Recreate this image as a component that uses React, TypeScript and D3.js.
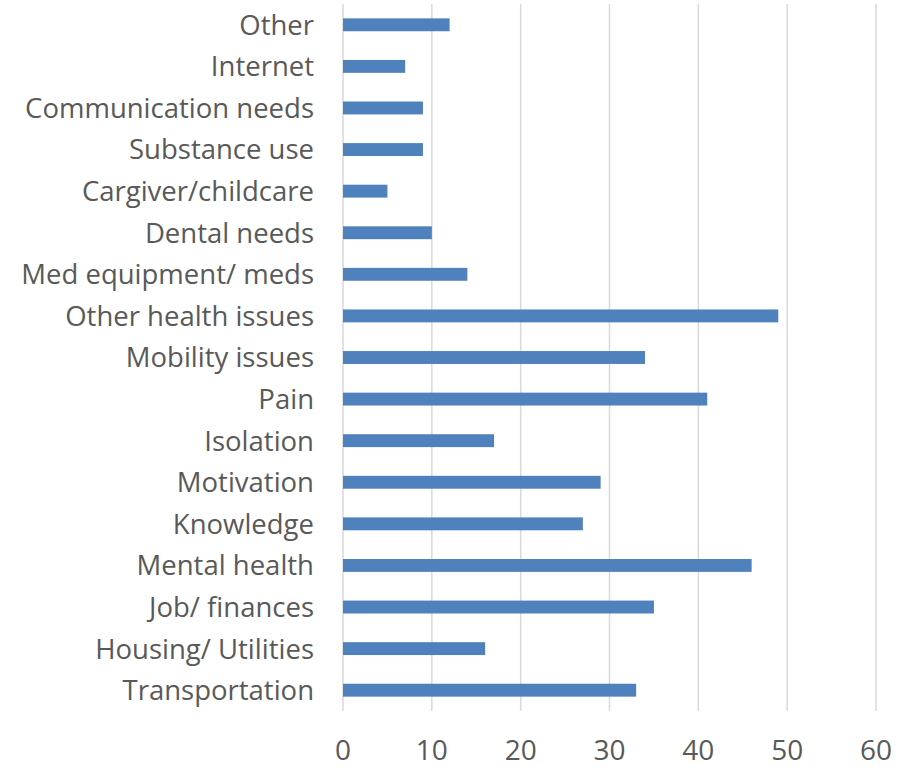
import React, {useEffect, useRef} from "react";
import * as d3 from "d3";

// categories from bottom to top as they appear in the chart
const categories = [
    "Transportation",
    "Housing/ Utilities",
    "Job/ finances",
    "Mental health",
    "Knowledge",
    "Motivation",
    "Isolation",
    "Pain",
    "Mobility issues",
    "Other health issues",
    "Med equipment/ meds",
    "Dental needs",
    "Cargiver/childcare",
    "Substance use",
    "Communication needs",
    "Internet",
    "Other",
];

const counts = [33, 16, 35, 46, 27, 29, 17, 41, 34, 49, 14, 10, 5, 9, 9, 7, 12];

const xTicks = [0, 10, 20, 30, 40, 50, 60];

const WIDTH = 908;
const HEIGHT = 769;
const margins = {top: 4, right: 32, bottom: 58, left: 343};
const FONT = "'Open Sans', Lato, sans-serif";

function App(): JSX.Element {
    const svgRef = useRef<SVGSVGElement>(null);

    useEffect(() => {
        if (!svgRef.current) return;
        const svg = d3.select(svgRef.current);
        svg.selectAll("*").remove();

        const plotW = WIDTH - margins.left - margins.right;
        const plotH = HEIGHT - margins.top - margins.bottom;

        const x = d3.scaleLinear().domain([0, 60]).range([0, plotW]);
        const y = d3.scaleBand<string>()
            .domain(categories.slice().reverse())
            .range([0, plotH])
            .paddingInner(0.69)
            .paddingOuter(0.345);

        const g = svg.append("g")
            .attr("transform", `translate(${margins.left}, ${margins.top})`);

        // vertical gridlines
        g.append("g")
            .selectAll("line")
            .data(xTicks)
            .enter()
            .append("line")
            .attr("x1", d => x(d))
            .attr("x2", d => x(d))
            .attr("y1", 0)
            .attr("y2", plotH)
            .attr("stroke", "#d9d9d9")
            .attr("stroke-width", 1.5);

        // bars
        g.append("g")
            .selectAll("rect")
            .data(categories.map((c, i) => ({name: c, value: counts[i]})))
            .enter()
            .append("rect")
            .attr("x", x(0))
            .attr("y", d => y(d.name) || 0)
            .attr("width", d => x(d.value) - x(0))
            .attr("height", y.bandwidth())
            .attr("fill", "#4f81bd");

        // category labels
        g.append("g")
            .selectAll("text")
            .data(categories)
            .enter()
            .append("text")
            .attr("x", -29)
            .attr("y", d => (y(d) || 0) + y.bandwidth() / 2)
            .attr("dy", "0.36em")
            .attr("text-anchor", "end")
            .attr("fill", "#595959")
            .style("font-family", FONT)
            .style("font-size", "27.5px")
            .text(d => d);

        // x tick labels
        g.append("g")
            .selectAll("text")
            .data(xTicks)
            .enter()
            .append("text")
            .attr("x", d => x(d))
            .attr("y", plotH + 39)
            .attr("dy", "0.36em")
            .attr("text-anchor", "middle")
            .attr("fill", "#595959")
            .style("font-family", FONT)
            .style("font-size", "28px")
            .text(d => String(d));
    }, []);

    return (
        <svg
            ref={svgRef}
            width={WIDTH}
            height={HEIGHT}
            style={{position: "absolute", left: 0, top: 0, background: "#fff"}}
        />
    );
}

export default App;
